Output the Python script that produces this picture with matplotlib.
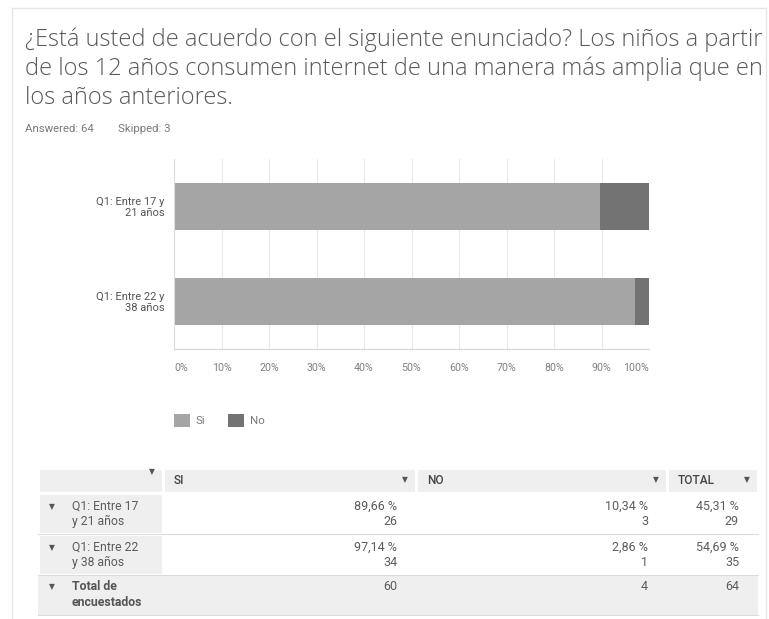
import matplotlib.pyplot as plt
from matplotlib.patches import Rectangle

plt.rcParams['font.family'] = ['Roboto', 'DejaVu Sans']

# survey numbers
groups = ["Q1: Entre 17 y\n21 años", "Q1: Entre 22 y\n38 años"]
row_labels = [("Q1: Entre 17", "y 21 años"), ("Q1: Entre 22", "y 38 años")]
answers = ["Si", "No"]
si_pct = [89.66, 97.14]
no_pct = [10.34, 2.86]
si_count = [26, 34]
no_count = [3, 1]
total_pct = [45.31, 54.69]
total_count = [29, 35]
column_totals = [60, 4, 64]
answered, skipped = 64, 3

SI_COLOR = "#a5a5a5"
NO_COLOR = "#737373"
TEXT = "#5c5c5c"
CELL_BG = "#efefef"

W, H = 769, 619
fig = plt.figure(figsize=(W / 100, H / 100), dpi=100)

# background layer in pixel coordinates (y grows downward)
bg = fig.add_axes([0, 0, 1, 1])
bg.set_xlim(0, W)
bg.set_ylim(H, 0)
bg.axis("off")

# page frame
bg.plot([12, 766], [8, 8], color="#e6e6e6", lw=1)
bg.plot([12, 12], [8, H], color="#e6e6e6", lw=1)
bg.plot([766, 766], [8, H], color="#e6e6e6", lw=1)

title_lines = [
    "¿Está usted de acuerdo con el siguiente enunciado? Los niños a partir",
    "de los 12 años consumen internet de una manera más amplia que en",
    "los años anteriores.",
]
for i, line in enumerate(title_lines):
    bg.text(25, 46 + 29 * i, line, fontsize=17, color="#5a5a5a",
            va="baseline", ha="left", family=["Open Sans", "DejaVu Sans"],
            fontweight="light")
bg.text(25, 129, f"Answered: {answered}", fontsize=8.2, color="#7a7a7a",
        va="center", ha="left")
bg.text(118, 129, f"Skipped: {skipped}", fontsize=8.2, color="#7a7a7a",
        va="center", ha="left")

# stacked horizontal bars
ax = fig.add_axes([174 / W, 1 - 349 / H, (649 - 174) / W, (349 - 159) / H])
ypos = list(range(len(groups)))
ax.barh(ypos, si_pct, height=0.495, color=SI_COLOR, label=answers[0])
ax.barh(ypos, no_pct, left=si_pct, height=0.495, color=NO_COLOR, label=answers[1])
ax.set_ylim(1.5, -0.5)
ax.set_xlim(0, 100)
ax.set_xticks(range(0, 101, 10))
ax.set_xticklabels([f"{v}%" for v in range(0, 101, 10)])
for i, lbl in enumerate(ax.get_xticklabels()):
    lbl.set_ha("left" if i == 0 else ("right" if i == 10 else "center"))
ax.set_yticks(ypos)
ax.set_yticklabels(groups)
ax.tick_params(axis="x", length=0, pad=10, labelsize=7.7, labelcolor="#808080")
ax.tick_params(axis="y", length=0, pad=7, labelsize=8, labelcolor="#555555")
for lbl in ax.get_yticklabels():
    lbl.set_ha("right")
    lbl.set_linespacing(1.05)
ax.grid(axis="x", color="#e8e8e8", lw=0.8)
ax.set_axisbelow(True)
for side in ("top", "right"):
    ax.spines[side].set_visible(False)
ax.spines["left"].set_color("#dddddd")
ax.spines["bottom"].set_color("#d6d6d6")

ax.legend(loc="upper left", bbox_to_anchor=(174 / W, 1 - 414 / H),
          bbox_transform=fig.transFigure, ncol=2, frameon=False,
          borderpad=0, borderaxespad=0,
          handlelength=1.4, handleheight=1.4, handletextpad=0.5,
          columnspacing=2.0, fontsize=8.2, labelcolor="#7a7a7a")

# summary table
cols = [38, 163, 416, 667, 758]
rows = [468, 493, 534, 575, 615]
gap = 1.5

def cell(x0, x1, y0, y1, color):
    bg.add_patch(Rectangle((x0 + gap, y0 + gap), x1 - x0 - 2 * gap,
                           y1 - y0 - 2 * gap, color=color, lw=0))

for c in range(4):
    cell(cols[c], cols[c + 1], rows[0], rows[1], CELL_BG)
for r in (1, 2):
    cell(cols[0], cols[1], rows[r], rows[r + 1], CELL_BG)
bg.add_patch(Rectangle((cols[0], rows[3]), cols[4] - cols[0], rows[4] - rows[3],
                       color=CELL_BG, lw=0))
for y in rows[2:]:
    bg.plot([cols[0], cols[4]], [y, y], color="#dcdcdc", lw=0.8)

arrow = dict(fontsize=5.5, color="#555555", ha="center", va="center",
             family=["DejaVu Sans"])
bg.text(152, 472, "▼", **arrow)
headers = ["SI", "NO", "TOTAL"]
for c, name in enumerate(headers, start=1):
    bg.text(cols[c] + 11, 481, name, fontsize=8.6, color="#444444",
            fontweight="medium", va="center", ha="left")
    bg.text(cols[c + 1] - 11, 480, "▼", **arrow)

def fmt(v):
    return f"{v:.2f}".replace(".", ",") + " %"

pad = 19
for r in range(2):
    top = rows[r + 1]
    y1, y2 = top + 13.5, top + 28.5
    bg.text(52, y1, "▼", **arrow)
    bg.text(72, y1, row_labels[r][0], fontsize=8.8, color=TEXT, va="center", ha="left")
    bg.text(72, y2, row_labels[r][1], fontsize=8.8, color=TEXT, va="center", ha="left")
    cells = [(si_pct[r], si_count[r]), (no_pct[r], no_count[r]),
             (total_pct[r], total_count[r])]
    for c, (p, n) in enumerate(cells, start=2):
        bg.text(cols[c] - pad, y1, fmt(p), fontsize=9, color=TEXT,
                va="center", ha="right")
        bg.text(cols[c] - pad, y2, str(n), fontsize=9, color=TEXT,
                va="center", ha="right")

y1, y2 = rows[3] + 12, rows[3] + 28
bg.text(52, y1, "▼", **arrow)
bg.text(72, y1, "Total de", fontsize=8.8, color="#555555",
        fontweight="bold", va="center", ha="left")
bg.text(72, y2, "encuestados", fontsize=8.8, color="#555555",
        fontweight="bold", va="center", ha="left")
for c, n in enumerate(column_totals, start=2):
    bg.text(cols[c] - pad, y1, str(n), fontsize=9, color=TEXT,
            va="center", ha="right")

fig.savefig("out.png", dpi=100)
